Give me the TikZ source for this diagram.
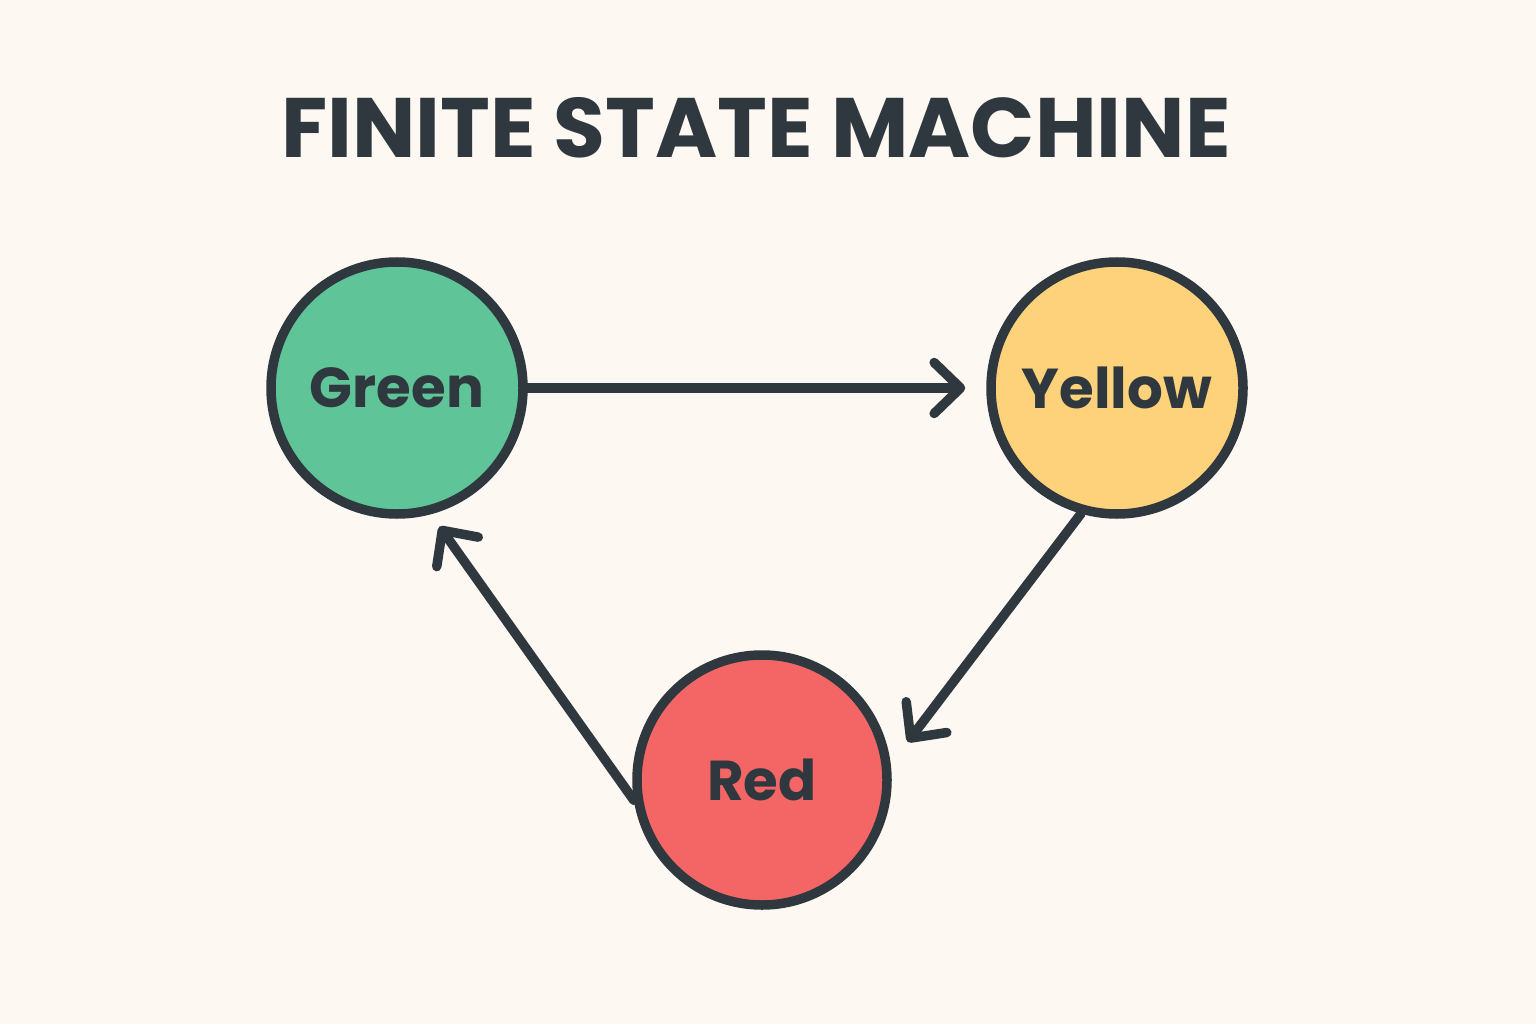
\documentclass[tikz,border=0pt]{standalone}
\usepackage{fontspec}
\setmainfont{Poppins}
\usepackage{tikz}
\usetikzlibrary{arrows.meta}
\definecolor{bgcream}{HTML}{FDF8F1}
\definecolor{inkdark}{HTML}{30383F}
\definecolor{stgreen}{HTML}{5FC497}
\definecolor{styellow}{HTML}{FDD27A}
\definecolor{stred}{HTML}{F46666}
\tikzset{
    state/.style={circle,draw=inkdark,line width=0.095cm,inner sep=0pt,minimum size=2.52cm,
        font=\fontsize{16}{19}\selectfont\bfseries,text=inkdark},
    trans/.style={color=inkdark,line width=0.095cm,line cap=round,
        -{Straight Barb[length=7.5pt,width=14.5pt,line width=2.7pt,line cap=round,line join=round]}}
}
\begin{document}
\begin{tikzpicture}
        %
        \fill[bgcream] (0,0) rectangle (15.36,10.24);
        \useasboundingbox (0,0) rectangle (15.36,10.24);
        %
        \node (title) at (7.56,8.96) [text=inkdark,font=\fontsize{24}{28}\selectfont\bfseries] {FINITE STATE MACHINE};
        \node (green) at (3.97,6.36) [state,fill=stgreen] {Green};
        \node (yellow) at (11.17,6.36) [state,fill=styellow] {Yellow};
        \node (red) at (7.62,2.44) [state,fill=stred,minimum size=2.5cm] {Red};
        %
        \draw [trans,shorten >=0.21cm] (green.east) to (yellow.west);
        \draw [trans,shorten >=0.28cm] (yellow.-106) to (red.7);
        \draw [trans,shorten >=0.15cm] (red.189) to (green.-75);
        %
\end{tikzpicture}
\end{document}
